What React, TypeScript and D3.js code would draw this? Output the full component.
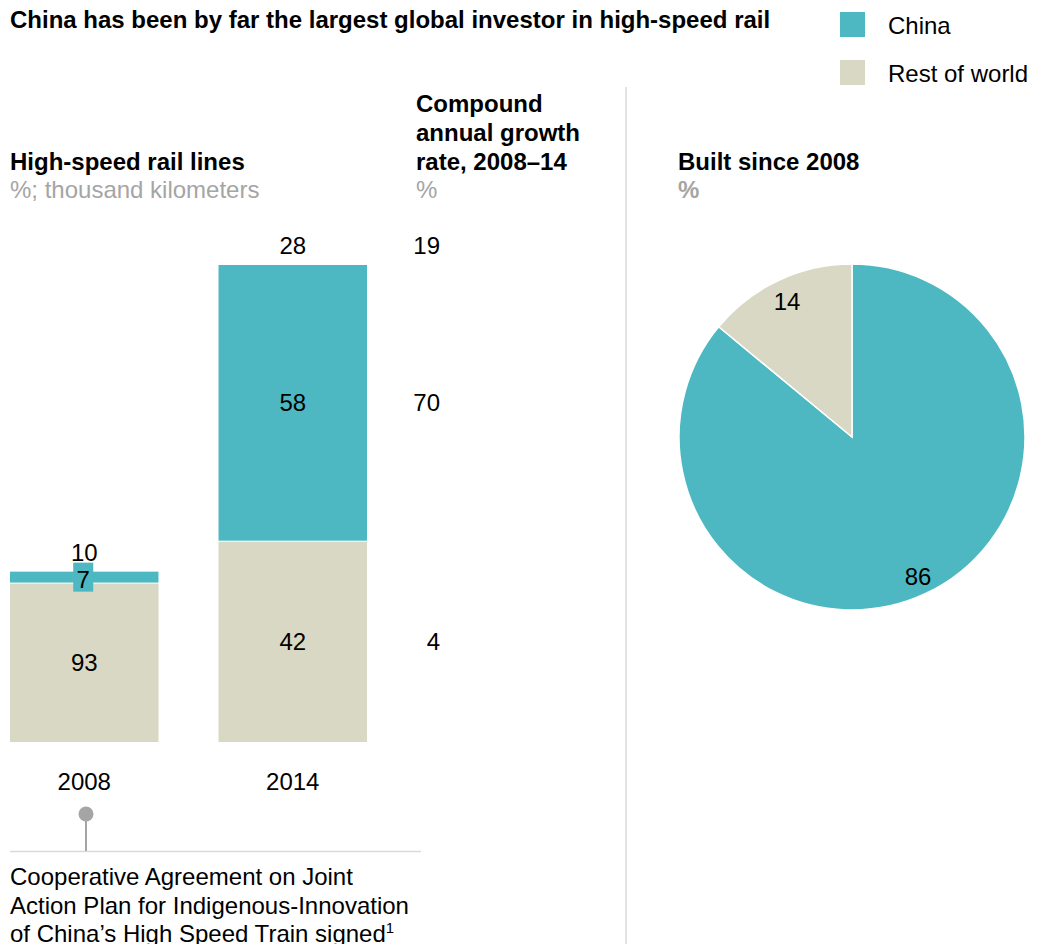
import * as d3 from 'd3';

const years = ['2008', '2014'];
const totals = [10, 28]; // thousand km
const chinaShare = [7, 58];
const restShare = [93, 42];
const cagr = [19, 70, 4]; // total, China, rest of world
const pieLabels = ['China', 'Rest of world'];
const pieValues = [86, 14];

const TEAL = '#4db8c2';
const BEIGE = '#d9d8c4';
const FONT = '"Liberation Sans", Arial, sans-serif';

export default function App() {
  const W = 1039;
  const H = 944;
  const baseY = 742;

  const x = d3.scaleBand().domain(years).range([10, 367]).paddingInner(0.288);
  const y = d3.scaleLinear().domain([0, 28]).range([baseY, 265]);

  const bars = years.map((yr, i) => {
    const total = totals[i];
    const restTop = y((total * restShare[i]) / 100);
    const top = y(total);
    return { yr, total, restTop, top, i };
  });

  const pie = d3.pie<number>().sort(null).value((d) => d)(pieValues);
  const arc = d3.arc<d3.PieArcDatum<number>>().innerRadius(0).outerRadius(173);
  const cx = 852;
  const cy = 437;

  const t = { fontFamily: FONT, fontSize: 24, fill: '#000' } as const;

  return (
    <svg width={W} height={H} style={{ position: 'absolute', left: 0, top: 0 }}>
      <text x={10} y={28} {...t} fontWeight="bold">
        China has been by far the largest global investor in high-speed rail
      </text>

      {pieLabels.map((l, i) => (
        <g key={l}>
          <rect x={840} y={12 + i * 48} width={25} height={25} fill={i === 0 ? TEAL : BEIGE} />
          <text x={888} y={34 + i * 48} {...t}>
            {l}
          </text>
        </g>
      ))}

      <text x={10} y={170} {...t} fontWeight="bold">High-speed rail lines</text>
      <text x={10} y={198} {...t} fill="#a5a5a5">%; thousand kilometers</text>

      <text x={416} y={112} {...t} fontWeight="bold">Compound</text>
      <text x={416} y={141} {...t} fontWeight="bold">annual growth</text>
      <text x={416} y={170} {...t} fontWeight="bold">rate, 2008–14</text>
      <text x={416} y={198} {...t} fill="#a5a5a5">%</text>

      <text x={678} y={170} {...t} fontWeight="bold">Built since 2008</text>
      <text x={678} y={198} {...t} fill="#a5a5a5" fontWeight="bold">%</text>

      <line x1={626} x2={626} y1={87} y2={H} stroke="#d9d9d9" strokeWidth={1.5} />

      {bars.map((b) => {
        const bx = x(b.yr)!;
        const bw = x.bandwidth();
        const mid = bx + bw / 2;
        const small = b.restTop - b.top < 30;
        return (
          <g key={b.yr}>
            <rect x={bx} y={b.restTop} width={bw} height={baseY - b.restTop} fill={BEIGE} />
            <rect x={bx} y={b.top} width={bw} height={b.restTop - b.top - 1} fill={TEAL} />
            <text x={mid} y={b.top - 11} {...t} textAnchor="middle">{b.total}</text>
            <text x={mid} y={(b.restTop + baseY) / 2 + 8} {...t} textAnchor="middle">
              {restShare[b.i]}
            </text>
            {small ? (
              <g>
                <rect x={mid - 11} y={b.top - 9} width={20} height={29} fill={TEAL} />
                <text x={mid - 1} y={b.top + 16} {...t} textAnchor="middle">{chinaShare[b.i]}</text>
              </g>
            ) : (
              <text x={mid} y={(b.top + b.restTop) / 2 + 8} {...t} textAnchor="middle">
                {chinaShare[b.i]}
              </text>
            )}
            <text x={mid} y={790} {...t} textAnchor="middle">{b.yr}</text>
          </g>
        );
      })}

      {/* growth rates aligned with 2014 bar segments */}
      <text x={440} y={bars[1].top - 11} {...t} textAnchor="end">{cagr[0]}</text>
      <text x={440} y={(bars[1].top + bars[1].restTop) / 2 + 8} {...t} textAnchor="end">{cagr[1]}</text>
      <text x={440} y={(bars[1].restTop + baseY) / 2 + 8} {...t} textAnchor="end">{cagr[2]}</text>

      <line x1={10} x2={421} y1={851.5} y2={851.5} stroke="#d9d9d9" strokeWidth={1.5} />
      <line x1={86} x2={86} y1={814} y2={851} stroke="#a5a5a5" strokeWidth={2} />
      <circle cx={86} cy={814} r={7.5} fill="#a5a5a5" />
      <text x={10} y={885} {...t}>Cooperative Agreement on Joint</text>
      <text x={10} y={914} {...t}>Action Plan for Indigenous-Innovation</text>
      <text x={10} y={942} {...t}>
        of China’s High Speed Train signed
        <tspan fontSize={15} dy={-9}>1</tspan>
      </text>

      <g transform={`translate(${cx},${cy})`}>
        {pie.map((p, i) => (
          <path key={i} d={arc(p)!} fill={i === 0 ? TEAL : BEIGE} stroke="#fff" strokeWidth={1.5} />
        ))}
        <text x={66} y={148} {...t} textAnchor="middle">{pieValues[0]}</text>
        <text x={-65} y={-127} {...t} textAnchor="middle">{pieValues[1]}</text>
      </g>
    </svg>
  );
}
